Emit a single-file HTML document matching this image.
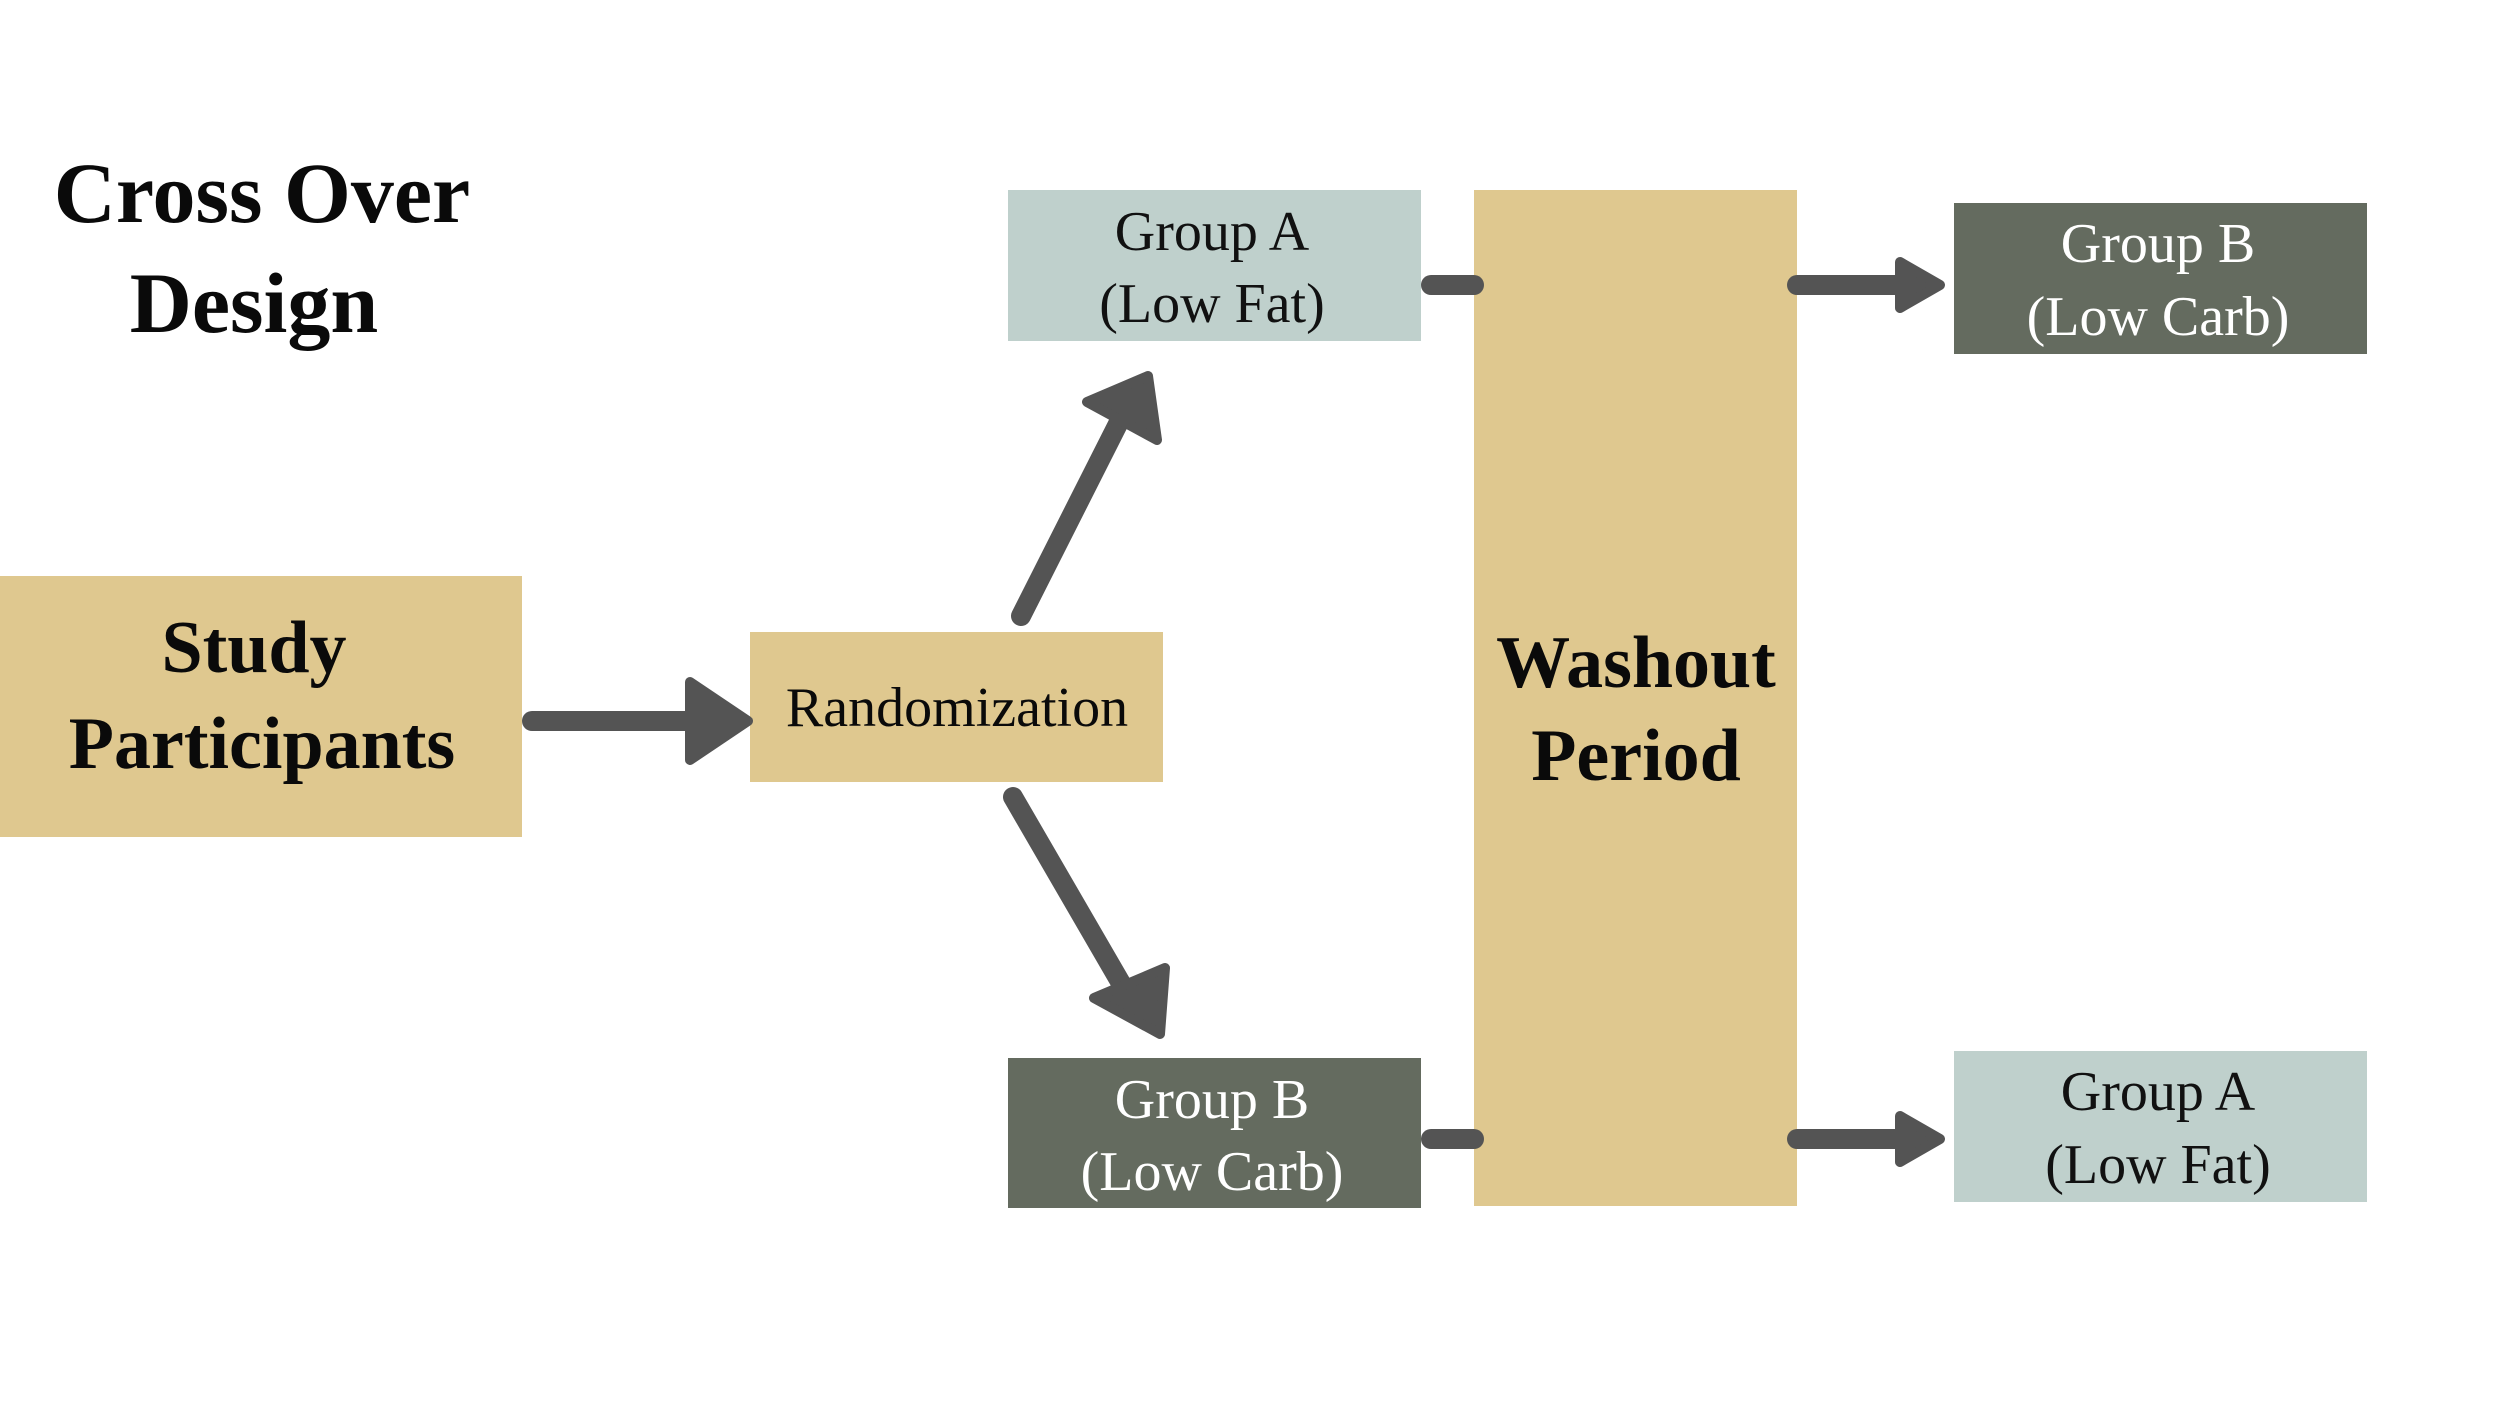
<!DOCTYPE html>
<html><head><meta charset="utf-8"><style>
html,body{margin:0;padding:0;background:#fff;}
svg{display:block;}
text{font-family:"Liberation Serif",serif;}
</style></head><body>
<svg width="2500" height="1409" viewBox="0 0 2500 1409" xmlns="http://www.w3.org/2000/svg">
<rect width="2500" height="1409" fill="#fff"/>
<!-- title -->
<text x="262" y="222" font-size="86" font-weight="bold" text-anchor="middle" fill="#0a0a0a">Cross Over</text>
<text x="254" y="332" font-size="86" font-weight="bold" text-anchor="middle" fill="#0a0a0a">Design</text>

<!-- boxes -->
<rect x="0" y="576" width="522" height="261" fill="#dfc88f"/>
<text x="254" y="672" font-size="74" font-weight="bold" text-anchor="middle" fill="#0a0a0a">Study</text>
<text x="262" y="768" font-size="74" font-weight="bold" text-anchor="middle" fill="#0a0a0a">Participants</text>

<rect x="750" y="632" width="413" height="150" fill="#dfc88f"/>
<text x="957" y="726" font-size="56" text-anchor="middle" fill="#0a0a0a">Randomization</text>

<rect x="1008" y="190" width="413" height="151" fill="#bfd0cc"/>
<text x="1212" y="250" font-size="56" text-anchor="middle" fill="#111">Group A</text>
<text x="1212" y="322" font-size="56" text-anchor="middle" fill="#111">(Low Fat)</text>

<rect x="1008" y="1058" width="413" height="150" fill="#646b5f"/>
<text x="1212" y="1118" font-size="56" text-anchor="middle" fill="#fff">Group B</text>
<text x="1212" y="1190" font-size="56" text-anchor="middle" fill="#fff">(Low Carb)</text>

<rect x="1474" y="190" width="323" height="1016" fill="#dfc88f"/>
<text x="1636" y="687" font-size="74" font-weight="bold" text-anchor="middle" fill="#0a0a0a">Washout</text>
<text x="1636" y="780" font-size="74" font-weight="bold" text-anchor="middle" fill="#0a0a0a">Period</text>

<rect x="1954" y="203" width="413" height="151" fill="#646b5f"/>
<text x="2158" y="262" font-size="56" text-anchor="middle" fill="#fff">Group B</text>
<text x="2158" y="335" font-size="56" text-anchor="middle" fill="#fff">(Low Carb)</text>

<rect x="1954" y="1051" width="413" height="151" fill="#bfd0cc"/>
<text x="2158" y="1110" font-size="56" text-anchor="middle" fill="#111">Group A</text>
<text x="2158" y="1183" font-size="56" text-anchor="middle" fill="#111">(Low Fat)</text>

<!-- connectors -->
<g stroke="#545454" stroke-width="20" stroke-linecap="round" fill="none">
<line x1="532" y1="721" x2="700" y2="721"/>
<line x1="1021" y1="616" x2="1120" y2="420"/>
<line x1="1013" y1="797" x2="1122" y2="985"/>
<line x1="1431" y1="285" x2="1474" y2="285"/>
<line x1="1431" y1="1139" x2="1474" y2="1139"/>
<line x1="1797" y1="285" x2="1905" y2="285"/>
<line x1="1797" y1="1139" x2="1905" y2="1139"/>
</g>
<g fill="#545454" stroke="#545454" stroke-width="10" stroke-linejoin="round">
<polygon points="690,682 748,721 690,760"/>
<polygon points="1148,376 1157,440 1087,402"/>
<polygon points="1160,1034 1165,968 1094,998"/>
<polygon points="1900,262 1940,285 1900,308"/>
<polygon points="1900,1116 1940,1139 1900,1162"/>
</g>
</svg>
</body></html>
